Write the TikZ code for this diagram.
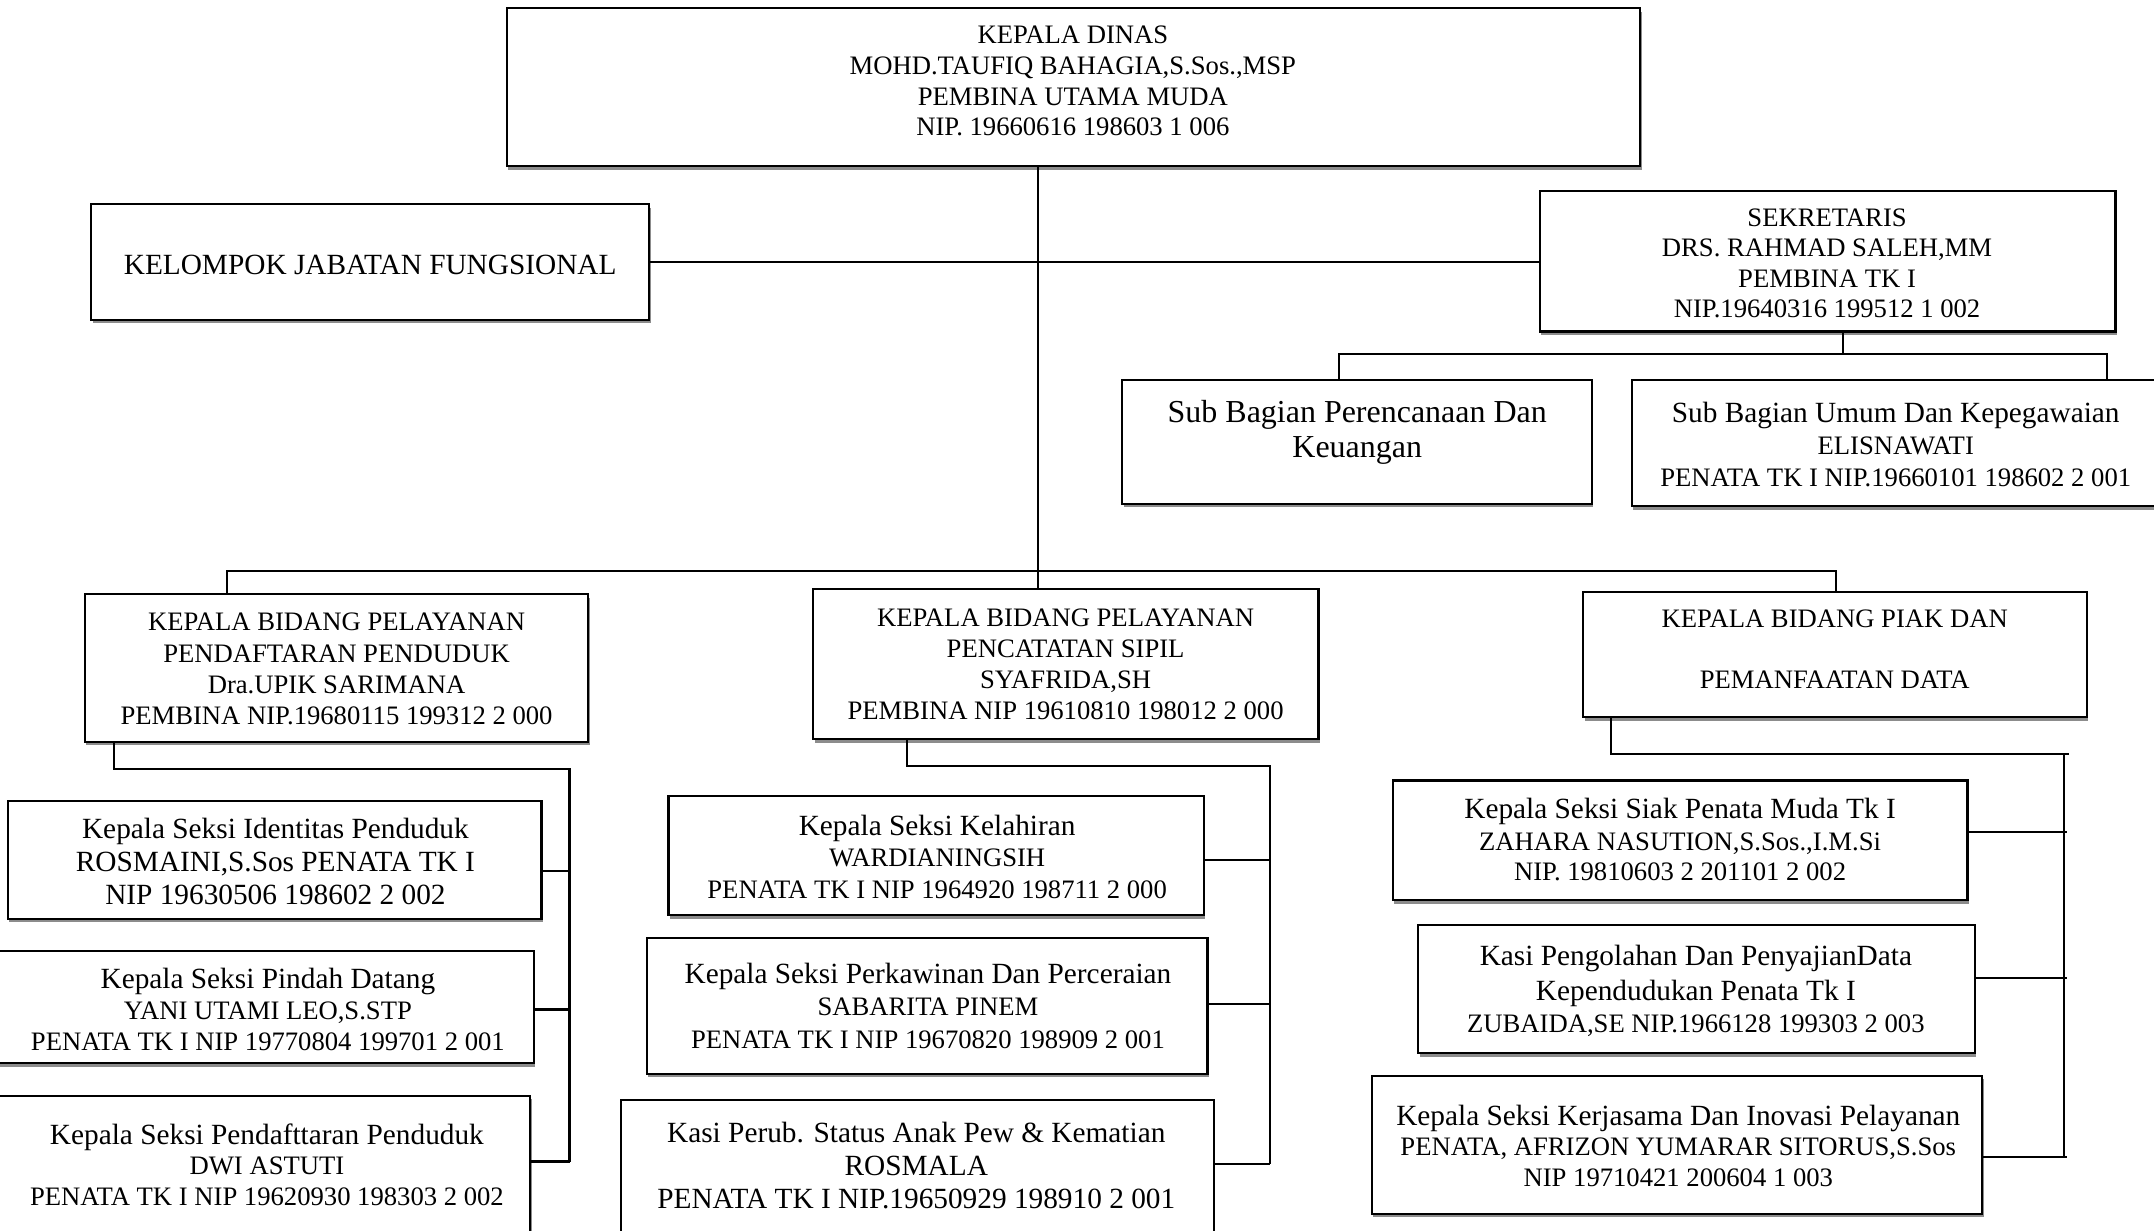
\documentclass[tikz,border=0pt]{standalone}
\usepackage{fontspec}
\setmainfont{Liberation Serif}
\usetikzlibrary{fit,shadows}
\begin{document}
\begin{tikzpicture}[x=0.5155pt,y=-0.5155pt]
\tikzset{
 box/.style={draw, line width=0.8pt, fill=white, inner sep=0pt, outer sep=0pt,
   drop shadow={shadow xshift=0.5pt, shadow yshift=-1.3pt, fill=black!45, opacity=1}},
 ln/.style={anchor=base, inner sep=0pt},
 tA/.style={ln, font=\fontsize{10}{12}\selectfont},
 tB/.style={ln, font=\fontsize{11}{13}\selectfont},
 tC/.style={ln, font=\fontsize{12}{14}\selectfont},
 wire/.style={line width=0.8pt}
}
\useasboundingbox (0,0) rectangle (1568,896);
\clip (0,0) rectangle (1568,896);

% ---------- boxes ----------
\node[box, fit={(369,6) (1194,121)}] (dinas) {};
\node[box, fit={(66.5,148.7) (472.6,232.7)}] (kelompok) {};
\node[box, fit={(1121,139) (1540,241.3)}] (sekr) {};
\node[box, fit={(817,276.7) (1159,366.6)}] (subper) {};
\node[box, fit={(1188,276.7) (1580,368.6)}] (subumum) {};
\node[box, fit={(61.7,432.6) (428.3,540)}] (bid1) {};
\node[box, fit={(592,428.5) (959.8,538)}] (bid2) {};
\node[box, fit={(1152.6,431) (1519.2,522)}] (bid3) {};
\node[box, fit={(5.8,583) (394.2,668.8)}] (s1) {};
\node[box, fit={(-10,692.2) (388.7,773.9)}] (s2) {};
\node[box, fit={(-10,797.8) (386,920)}] (s3) {};
\node[box, fit={(486.6,579.7) (876.2,666.3)}] (m1) {};
\node[box, fit={(470.9,682.8) (879,781.5)}] (m2) {};
\node[box, fit={(451.8,800.8) (883.8,920)}] (m3) {};
\node[box, fit={(1013.8,568.1) (1432.2,655.4)}] (r1) {};
\node[box, fit={(1032.4,673.4) (1437.5,766.6)}] (r2) {};
\node[box, fit={(998.8,783) (1443,883.4)}] (r3) {};

% ---------- texts ----------
\node[tA] (dinasA) at (781,31.4) {KEPALA DINAS};
\node[tA] (dinasB) at (781,54.4) {MOHD.TAUFIQ BAHAGIA,S.Sos.,MSP};
\node[tA] (dinasC) at (781,76.6) {PEMBINA UTAMA MUDA};
\node[tA] (dinasD) at (781,98.6) {NIP. 19660616 198603 1 006};

\node[tB] (kelA) at (269.5,199.6) {KELOMPOK JABATAN FUNGSIONAL};

\node[tA] (sekrA) at (1330,165) {SEKRETARIS};
\node[tA] (sekrB) at (1330,187) {DRS. RAHMAD SALEH,MM};
\node[tA] (sekrC) at (1330,209.1) {PEMBINA TK I};
\node[tA] (sekrD) at (1330,231.4) {NIP.19640316 199512 1 002};

\node[tC] (subperA) at (988,307.4) {Sub Bagian Perencanaan Dan};
\node[tC] (subperB) at (988,333.2) {Keuangan};

\node[tB] (subumA) at (1380,307.4) {Sub Bagian Umum Dan Kepegawaian};
\node[tA] (subumB) at (1380,330.8) {ELISNAWATI};
\node[tA] (subumC) at (1380,354) {PENATA TK I NIP.19660101 198602 2 001};

\node[tA] (bid1A) at (245,459) {KEPALA BIDANG PELAYANAN};
\node[tA] (bid1B) at (245,482.2) {PENDAFTARAN PENDUDUK};
\node[tA] (bid1C) at (245,504.6) {Dra.UPIK SARIMANA};
\node[tA] (bid1D) at (245,527.6) {PEMBINA NIP.19680115 199312 2 000};

\node[tA] (bid2A) at (775.7,456) {KEPALA BIDANG PELAYANAN};
\node[tA] (bid2B) at (775.7,478.7) {PENCATATAN SIPIL};
\node[tA] (bid2C) at (775.7,501.1) {SYAFRIDA,SH};
\node[tA] (bid2D) at (775.7,523.9) {PEMBINA NIP 19610810 198012 2 000};

\node[tA] (bid3A) at (1335.6,456.9) {KEPALA BIDANG PIAK DAN};
\node[tA] (bid3B) at (1335.6,501.1) {PEMANFAATAN DATA};

\node[tB] (s1A) at (200.5,610.2) {Kepala Seksi Identitas Penduduk};
\node[tB] (s1B) at (200.5,634.2) {ROSMAINI,S.Sos PENATA TK I};
\node[tB] (s1C) at (200.5,658.5) {NIP 19630506 198602 2 002};

\node[tB] (s2A) at (195,719.2) {Kepala Seksi Pindah Datang};
\node[tA] (s2B) at (195,742) {YANI UTAMI LEO,S.STP};
\node[tA] (s2C) at (195,764.4) {PENATA TK I NIP 19770804 199701 2 001};

\node[tB] (s3A) at (194.3,833) {Kepala Seksi Pendafttaran Penduduk};
\node[tA] (s3B) at (194.3,854.8) {DWI ASTUTI};
\node[tA] (s3C) at (194.3,877.5) {PENATA TK I NIP 19620930 198303 2 002};

\node[tB] (m1A) at (682.2,608) {Kepala Seksi Kelahiran};
\node[tA] (m1B) at (682.2,630.4) {WARDIANINGSIH};
\node[tA] (m1C) at (682.2,653.8) {PENATA TK I NIP 1964920 198711 2 000};

\node[tB] (m2A) at (675.5,716.1) {Kepala Seksi Perkawinan Dan Perceraian};
\node[tA] (m2B) at (675.5,739.5) {SABARITA PINEM};
\node[tA] (m2C) at (675.5,762.9) {PENATA TK I NIP 19670820 198909 2 001};

\node[tB] (m3A) at (667,831.6) {Kasi Perub. Status Anak Pew \& Kematian};
\node[tB] (m3B) at (667,856) {ROSMALA};
\node[tB] (m3C) at (667,880) {PENATA TK I NIP.19650929 198910 2 001};

\node[tB] (r1A) at (1223,595.5) {Kepala Seksi Siak Penata Muda Tk I};
\node[tA] (r1B) at (1223,618.9) {ZAHARA NASUTION,S.Sos.,I.M.Si};
\node[tA] (r1C) at (1223,641.3) {NIP. 19810603 2 201101 2 002};

\node[tB] (r2A) at (1234.5,703) {Kasi Pengolahan Dan PenyajianData};
\node[tB] (r2B) at (1234.5,728.6) {Kependudukan Penata Tk I};
\node[tA] (r2C) at (1234.5,751.9) {ZUBAIDA,SE NIP.1966128 199303 2 003};

\node[tB] (r3A) at (1221.7,819) {Kepala Seksi Kerjasama Dan Inovasi Pelayanan};
\node[tA] (r3B) at (1221.7,840.8) {PENATA, AFRIZON YUMARAR SITORUS,S.Sos};
\node[tA] (r3C) at (1221.7,863.4) {NIP 19710421 200604 1 003};

% ---------- junction points ----------
\coordinate (tj) at (755.5,415.5);
\coordinate (j1) at (165,415.5);
\coordinate (j3) at (1336.6,415.5);
\coordinate (sj) at (1341.6,257.4);
\coordinate (sl) at (974.5,257.4);
\coordinate (sr) at (1534,257.4);
\coordinate (b1a) at (82.9,559.7);
\coordinate (b1b) at (414.6,559.7);
\coordinate (b1c1) at (414.6,634);
\coordinate (b1c2) at (414.6,734.8);
\coordinate (b1c3) at (414.6,845.5);
\coordinate (b2a) at (660,557.8);
\coordinate (b2b) at (924.2,557.8);
\coordinate (b2c1) at (924.2,625.8);
\coordinate (b2c2) at (924.2,730.7);
\coordinate (b2c3) at (924.2,847);
\coordinate (b3a) at (1172.4,548.8);
\coordinate (b3b) at (1502.4,548.8);
\coordinate (b3c1) at (1502.4,605.5);
\coordinate (b3c2) at (1502.4,712);
\coordinate (b3c3) at (1502.4,842);

% ---------- connectors ----------
\draw[wire] (dinas.south -| tj) -- (bid2.north -| tj);
\draw[wire] (bid1.north -| j1) -- (j1) -- (j3) -- (bid3.north -| j3);
\draw[wire] (kelompok.east) -- (kelompok.east -| sekr.west);
\draw[wire] (sekr.south -| sj) -- (sj);
\draw[wire] (subper.north -| sl) -- (sl) -- (sr) -- (subumum.north -| sr);

\draw[wire] (bid1.south -| b1a) -- (b1a) -- (b1b) -- (b1c3);
\draw[wire] (b1c1) -- (b1c1 -| s1.east);
\draw[wire] (b1c2) -- (b1c2 -| s2.east);
\draw[wire] (b1c3) -- (b1c3 -| s3.east);

\draw[wire] (bid2.south -| b2a) -- (b2a) -- (b2b) -- (b2c3);
\draw[wire] (b2c1) -- (b2c1 -| m1.east);
\draw[wire] (b2c2) -- (b2c2 -| m2.east);
\draw[wire] (b2c3) -- (b2c3 -| m3.east);

\draw[wire] (bid3.south -| b3a) -- (b3a) -- ([xshift=2pt]b3b);
\draw[wire] (b3b) -- (b3c3);
\draw[wire] ([xshift=1pt]b3c1) -- (b3c1 -| r1.east);
\draw[wire] ([xshift=1pt]b3c2) -- (b3c2 -| r2.east);
\draw[wire] ([xshift=1pt]b3c3) -- (b3c3 -| r3.east);
\end{tikzpicture}
\end{document}
